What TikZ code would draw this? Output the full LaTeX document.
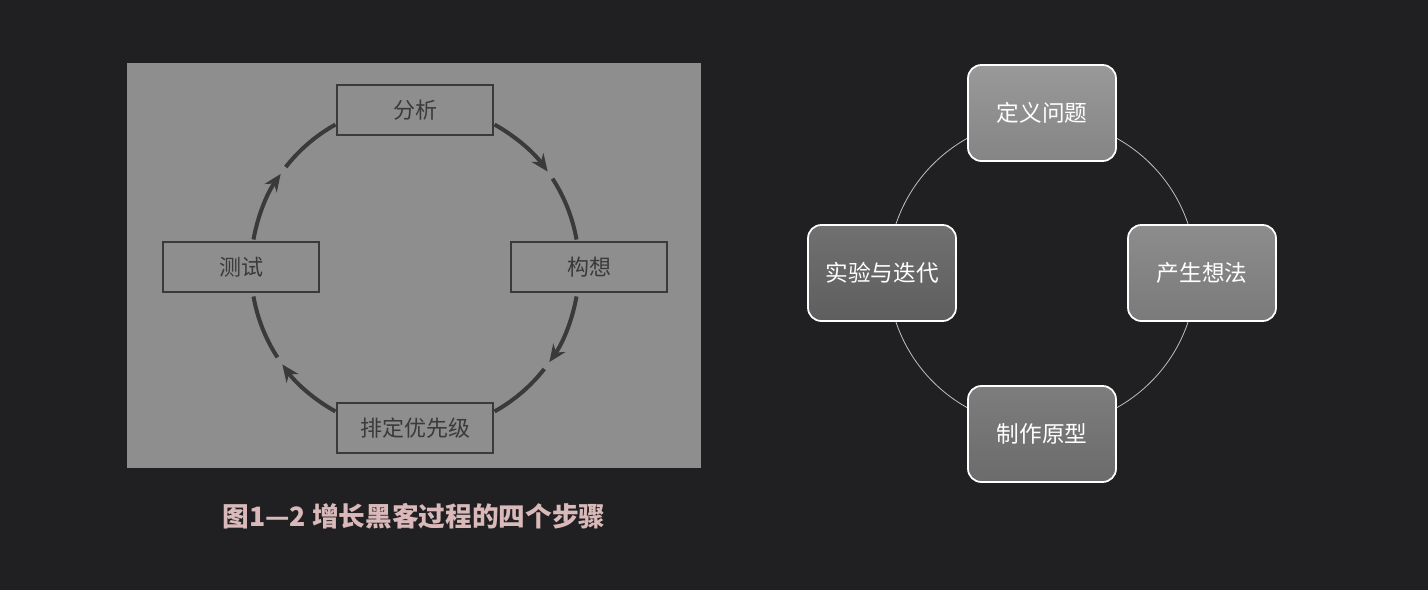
\documentclass[tikz,border=0pt]{standalone}
\usepackage{fontspec}
\setmainfont{Noto Sans CJK SC}
\usetikzlibrary{arrows.meta,calc}
\definecolor{bgdark}{HTML}{202022}
\definecolor{panel}{HTML}{8E8E8E}
\definecolor{ink}{HTML}{3A3A3A}
\definecolor{caption}{HTML}{D9B9B9}
\tikzset{
  oldbox/.style={draw=ink,line width=1.4pt,minimum width=117pt,minimum height=38pt,
    font=\fontsize{16.5}{16.5}\selectfont,text=ink},
  loop/.style={draw=ink,line width=3pt},
  newbox/.style={draw=white,line width=1.3pt,rounded corners=10pt,minimum width=111pt,
    minimum height=72pt,font=\fontsize{17}{17}\selectfont,text=white},
}
\begin{document}
\begin{tikzpicture}[x=0.75pt,y=-0.75pt]
  \useasboundingbox[fill=bgdark] (0,0) rectangle (1428,590);
  % left: scanned figure
  \fill[panel] (127,63) rectangle (701,468);
  \coordinate (c1) at (415,268);
  \foreach \s/\e in {-61/-10, 10/61, 119/170, 190/241}{
    \draw[loop,-{Stealth[length=13pt,width=11pt]}] ($(c1)+(\s:164)$) arc[start angle=\s,end angle=\s+25,radius=164];
    \draw[loop] ($(c1)+(\s+28:164)$) arc[start angle=\s+28,end angle=\e,radius=164];
  }
  \node[oldbox,fill=panel] (fenxi) at (415,110) {分析};
  \node[oldbox,fill=panel] (gouxiang) at (589,267) {构想};
  \node[oldbox,fill=panel] (paiding) at (415,428) {排定优先级};
  \node[oldbox,fill=panel] (ceshi) at (241,267) {测试};
  \node[text=caption,font=\fontsize{20}{20}\selectfont\bfseries] (cap) at (414,516) {图1—2 增长黑客过程的四个步骤};
  % right: redrawn cycle
  \coordinate (c2) at (1042,273);
  \draw[white!75!black,line width=0.6pt] (c2) circle[radius=154];
  \node[newbox,top color=black!40,bottom color=black!48] (dingyi) at (1042,113) {定义问题};
  \node[newbox,top color=black!45,bottom color=black!52] (chansheng) at (1202,273) {产生想法};
  \node[newbox,top color=black!51,bottom color=black!58] (zhizuo) at (1042,434) {制作原型};
  \node[newbox,top color=black!56,bottom color=black!63] (shiyan) at (882,273) {实验与迭代};
\end{tikzpicture}
\end{document}
